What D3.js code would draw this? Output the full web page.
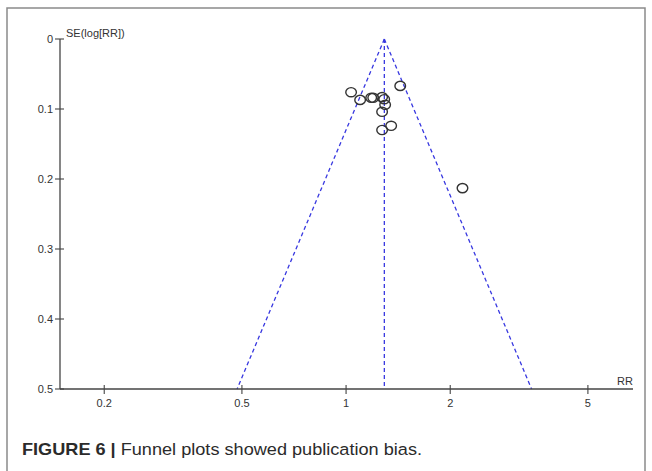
<!DOCTYPE html>
<html><head><meta charset="utf-8">
<script src="https://cdn.jsdelivr.net/npm/d3@7"></script>
<style>body{margin:0;background:#fff}svg{display:block}</style>
</head><body>
<svg id="c" width="652" height="471"></svg>
<script>
const studyRR = [1.034, 1.098, 1.182, 1.198, 1.271, 1.289, 1.297, 1.271, 1.434, 1.350, 1.271, 2.17];
const studySE = [0.076, 0.087, 0.084, 0.084, 0.083, 0.086, 0.094, 0.104, 0.067, 0.124, 0.130, 0.213];
const pooledRR = [1.29];
const xTicks = [0.2, 0.5, 1, 2, 5];
const yTicks = [0, 0.1, 0.2, 0.3, 0.4, 0.5];
const caption = ["FIGURE 6 |", " Funnel plots showed publication bias."];

const svg = d3.select("#c");
svg.append("rect").attr("x",7).attr("y",8).attr("width",638).attr("height",480)
  .attr("fill","#fff").attr("stroke","#8a8a8a").attr("stroke-width",1.5);

const x = d3.scaleLog().domain([0.149, 6.75]).range([60, 633]);
const y = d3.scaleLinear().domain([0, 0.5]).range([39, 389]);

const font = "Liberation Sans, Arial, sans-serif";
const g = svg.append("g").attr("font-family", font).attr("font-size", 11).attr("fill","#333");

// funnel
const p = pooledRR[0];
const lp = Math.log(p);
const funnelColor = "#3838e0";
const left = [[p,0],[Math.exp(lp-1.96*0.5),0.5]];
const right = [[p,0],[Math.exp(lp+1.96*0.5),0.5]];
const line = d3.line().x(d=>x(d[0])).y(d=>y(d[1]));
[left,right,[[p,0],[p,0.5]]].forEach(pts=>{
  g.append("path").attr("d",line(pts)).attr("fill","none")
   .attr("stroke",funnelColor).attr("stroke-width",1.3).attr("stroke-dasharray","4,3");
});

// axes
const yAxis = g.append("g").attr("transform","translate(60,0)");
yAxis.append("line").attr("x1",0).attr("x2",0).attr("y1",y(0)).attr("y2",y(0.5)).attr("stroke","#444").attr("stroke-width",1.3);
yTicks.forEach(t=>{
  yAxis.append("line").attr("x1",-5).attr("x2",4).attr("y1",y(t)).attr("y2",y(t)).attr("stroke","#444").attr("stroke-width",1.1);
  yAxis.append("text").attr("x",-7).attr("y",y(t)).attr("dy","0.35em").attr("text-anchor","end").text(d3.format("")(t));
});
const xAxis = g.append("g");
xAxis.append("line").attr("x1",60).attr("x2",633).attr("y1",y(0.5)).attr("y2",y(0.5)).attr("stroke","#444").attr("stroke-width",1.3);
xTicks.forEach(t=>{
  xAxis.append("line").attr("x1",x(t)).attr("x2",x(t)).attr("y1",y(0.5)-4).attr("y2",y(0.5)+5).attr("stroke","#444").attr("stroke-width",1.1);
  xAxis.append("text").attr("x",x(t)).attr("y",y(0.5)+18).attr("text-anchor","middle").text(t);
});
g.append("text").attr("x",66).attr("y",37).text("SE(log[RR])");
g.append("text").attr("x",633).attr("y",385).attr("text-anchor","end").text("RR");

// points
g.append("g").selectAll("ellipse").data(studyRR.map((r,i)=>[r,studySE[i]])).join("ellipse")
  .attr("cx",d=>x(d[0])).attr("cy",d=>y(d[1])).attr("rx",5.3).attr("ry",4.6)
  .attr("fill","none").attr("stroke","#333").attr("stroke-width",1.4);

// caption
const cap = svg.append("text").attr("x",22).attr("y",455).attr("font-family","Liberation Sans, Arial, sans-serif").attr("font-size",16.3).attr("fill","#2b2b2b");
cap.append("tspan").attr("font-weight","bold").text(caption[0]);
cap.append("tspan").text(caption[1]);
const w = cap.node().getComputedTextLength();
if (w > 0) cap.attr("textLength", 400).attr("lengthAdjust","spacingAndGlyphs");
</script>
</body></html>
